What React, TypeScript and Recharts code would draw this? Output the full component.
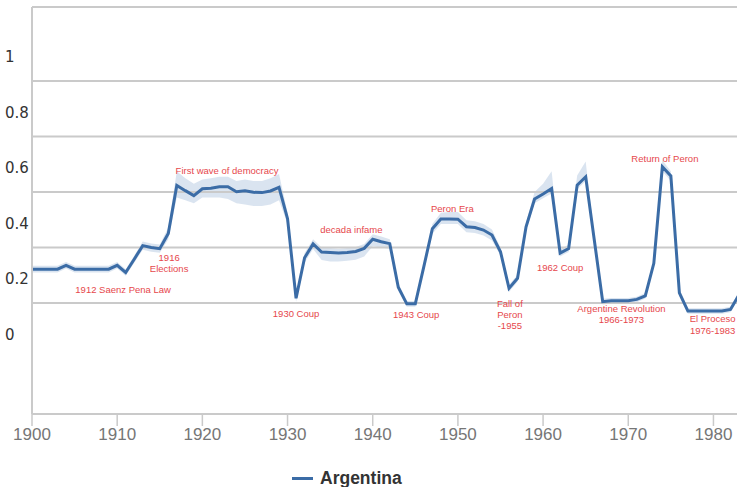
import React from 'react';
import { ComposedChart, Line, Area, XAxis, YAxis, ReferenceLine, ReferenceDot } from 'recharts';

const years = [
  1900, 1901, 1902, 1903, 1904, 1905, 1906, 1907, 1908, 1909,
  1910, 1911, 1912, 1913, 1914, 1915, 1916, 1917, 1918, 1919,
  1920, 1921, 1922, 1923, 1924, 1925, 1926, 1927, 1928, 1929,
  1930, 1931, 1932, 1933, 1934, 1935, 1936, 1937, 1938, 1939,
  1940, 1941, 1942, 1943, 1944, 1945, 1946, 1947, 1948, 1949,
  1950, 1951, 1952, 1953, 1954, 1955, 1956, 1957, 1958, 1959,
  1960, 1961, 1962, 1963, 1964, 1965, 1966, 1967, 1968, 1969,
  1970, 1971, 1972, 1973, 1974, 1975, 1976, 1977, 1978, 1979,
  1980, 1981, 1982, 1983,
];

const argentina = [
  0.222, 0.222, 0.222, 0.222, 0.236, 0.222, 0.222, 0.222, 0.222, 0.222,
  0.236, 0.21, 0.258, 0.307, 0.3, 0.296, 0.351, 0.524, 0.505, 0.487,
  0.512, 0.514, 0.519, 0.519, 0.501, 0.505, 0.499, 0.498, 0.504, 0.517,
  0.404, 0.117, 0.263, 0.313, 0.284, 0.282, 0.28, 0.282, 0.286, 0.297,
  0.33, 0.321, 0.314, 0.157, 0.097, 0.097, 0.231, 0.368, 0.403, 0.403,
  0.402, 0.375, 0.372, 0.363, 0.345, 0.285, 0.153, 0.189, 0.375, 0.475,
  0.493, 0.513, 0.28, 0.296, 0.525, 0.555, 0.33, 0.105, 0.108, 0.108,
  0.108, 0.113, 0.126, 0.243, 0.591, 0.558, 0.137, 0.071, 0.071, 0.071,
  0.071, 0.071, 0.077, 0.13,
];

const bandLow = [
  0.21, 0.21, 0.21, 0.21, 0.224, 0.21, 0.21, 0.21, 0.21, 0.21,
  0.224, 0.198, 0.245, 0.292, 0.285, 0.281, 0.33, 0.48, 0.47, 0.46,
  0.48, 0.48, 0.48, 0.475, 0.46, 0.455, 0.45, 0.45, 0.455, 0.47,
  0.385, 0.105, 0.245, 0.295, 0.255, 0.25, 0.25, 0.252, 0.256, 0.268,
  0.305, 0.3, 0.295, 0.145, 0.087, 0.087, 0.218, 0.35, 0.385, 0.385,
  0.385, 0.355, 0.352, 0.343, 0.325, 0.27, 0.14, 0.177, 0.36, 0.46,
  0.478, 0.495, 0.268, 0.284, 0.51, 0.54, 0.318, 0.095, 0.098, 0.098,
  0.098, 0.103, 0.116, 0.23, 0.575, 0.54, 0.125, 0.061, 0.061, 0.061,
  0.061, 0.061, 0.067, 0.12,
];

const bandHigh = [
  0.234, 0.234, 0.234, 0.234, 0.248, 0.234, 0.234, 0.234, 0.234, 0.234,
  0.248, 0.222, 0.27, 0.322, 0.315, 0.311, 0.372, 0.575, 0.55, 0.53,
  0.545, 0.55, 0.555, 0.555, 0.54, 0.545, 0.54, 0.54, 0.55, 0.565,
  0.425, 0.13, 0.28, 0.33, 0.3, 0.298, 0.296, 0.298, 0.302, 0.313,
  0.348, 0.34, 0.33, 0.17, 0.107, 0.107, 0.245, 0.385, 0.425, 0.428,
  0.428, 0.398, 0.395, 0.385, 0.365, 0.3, 0.166, 0.202, 0.39, 0.5,
  0.53, 0.575, 0.295, 0.31, 0.56, 0.61, 0.345, 0.115, 0.118, 0.118,
  0.118, 0.123, 0.136, 0.256, 0.615, 0.575, 0.15, 0.081, 0.081, 0.081,
  0.081, 0.081, 0.087, 0.14,
];

const xTicks = [1900, 1910, 1920, 1930, 1940, 1950, 1960, 1970, 1980];
const yTicks = [0, 0.2, 0.4, 0.6, 0.8, 1];
const gridValues = [0.1, 0.3, 0.5, 0.7, 0.9];
const xDomain = [1900, 1983];
const yDomain = [-0.3, 1.167];

const annYears = [1922.9, 1916.1, 1910.7, 1931.0, 1937.5, 1945.1, 1949.35, 1956.1, 1962.0, 1974.3, 1969.2, 1979.9];
const annValues = [0.579, 0.246, 0.15, 0.064, 0.368, 0.06, 0.442, 0.06, 0.23, 0.624, 0.062, 0.024];
const annTexts = [
  ['First wave of democracy'],
  ['1916', 'Elections'],
  ['1912 Saenz Pena Law'],
  ['1930 Coup'],
  ['decada infame'],
  ['1943 Coup'],
  ['Peron Era'],
  ['Fall of', 'Peron', '-1955'],
  ['1962 Coup'],
  ['Return of Peron'],
  ['Argentine Revolution', '1966-1973'],
  ['El Proceso', '1976-1983'],
];

const data = years.map((y, i) => ({
  year: y,
  value: argentina[i],
  band: [bandLow[i], bandHigh[i]],
}));

const LINE = '#3b6ca6';
const GRID = '#cacaca';
const RED = '#e6474c';

const makeAnnotation = (lines: string[]) => (props: any) => {
  const { cx, cy } = props;
  const lh = 11.3;
  const y0 = cy - ((lines.length - 1) * lh) / 2;
  return (
    <text
      x={cx}
      y={y0}
      textAnchor="middle"
      dominantBaseline="central"
      fontSize={9.5}
      fill={RED}
      fontFamily="'Liberation Sans', Arial, sans-serif"
    >
      {lines.map((l, i) => (
        <tspan key={i} x={cx} y={y0 + i * lh} dominantBaseline="central">
          {l}
        </tspan>
      ))}
    </text>
  );
};

const YTick = (props: any) => {
  const { y, payload } = props;
  return (
    <text
      x={5}
      y={y + 4}
      dominantBaseline="central"
      fontSize={15}
      fill="#333"
      fontFamily="'DejaVu Sans', sans-serif"
    >
      {String(payload.value)}
    </text>
  );
};

const XTick = (props: any) => {
  const { x, y, payload } = props;
  return (
    <text
      x={x}
      y={y}
      dy={12}
      textAnchor="middle"
      fontSize={17}
      fill="#767676"
      fontFamily="'Liberation Sans', Arial, sans-serif"
    >
      {String(payload.value)}
    </text>
  );
};

export default function App() {
  return (
    <div
      style={{
        position: 'absolute',
        left: 0,
        top: 0,
        width: 737,
        height: 487,
        overflow: 'hidden',
        background: '#fff',
      }}
    >
      <ComposedChart
        width={745}
        height={487}
        data={data}
        margin={{ top: 7, right: 6, left: 0, bottom: 0 }}
      >
        <XAxis
          dataKey="year"
          type="number"
          domain={xDomain}
          ticks={xTicks}
          height={73}
          axisLine={{ stroke: GRID, strokeWidth: 2 }}
          tickLine={{ stroke: GRID, strokeWidth: 1.5 }}
          tickSize={12}
          tick={<XTick />}
          allowDataOverflow
        />
        <YAxis
          type="number"
          domain={yDomain}
          ticks={yTicks}
          width={32}
          axisLine={{ stroke: GRID, strokeWidth: 2 }}
          tickLine={false}
          tick={<YTick />}
          allowDataOverflow
        />
        {gridValues.map((g) => (
          <ReferenceLine key={g} y={g} stroke={GRID} strokeWidth={2} />
        ))}
        <ReferenceLine y={yDomain[1]} stroke={GRID} strokeWidth={2} />
        <Area
          dataKey="band"
          type="linear"
          stroke="none"
          fill="#cad8ea"
          fillOpacity={0.7}
          isAnimationActive={false}
          activeDot={false}
        />
        <Line
          dataKey="value"
          type="linear"
          stroke={LINE}
          strokeWidth={3}
          dot={false}
          activeDot={false}
          isAnimationActive={false}
        />
        {annTexts.map((lines, i) => (
          <ReferenceDot
            key={i}
            x={annYears[i]}
            y={annValues[i]}
            r={0}
            shape={makeAnnotation(lines)}
          />
        ))}
      </ComposedChart>
      <div
        style={{
          position: 'absolute',
          left: 292,
          top: 467,
          height: 22,
          display: 'flex',
          alignItems: 'center',
        }}
      >
        <span style={{ display: 'inline-block', width: 21, height: 3, background: LINE, marginRight: 7 }} />
        <span
          style={{
            fontFamily: "'Liberation Sans', Arial, sans-serif",
            fontWeight: 'bold',
            fontSize: 17.5,
            color: '#333',
          }}
        >
          Argentina
        </span>
      </div>
    </div>
  );
}
